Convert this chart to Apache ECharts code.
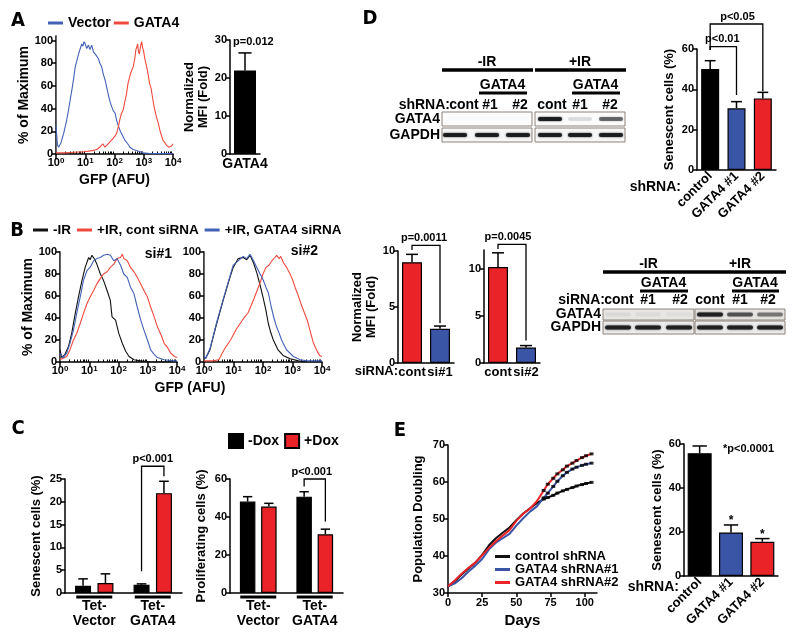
<!DOCTYPE html>
<html><head><meta charset="utf-8">
<script src="https://cdn.jsdelivr.net/npm/echarts@6/dist/echarts.min.js"></script>
<style>html,body{margin:0;padding:0;background:#fff}#c{width:800px;height:643px}</style>
</head><body><div id="c"></div>
<script>
// ---------------- DATA ----------------
// Panel A: flow histograms (x = log10 GFP, y = % of maximum)
const aVector = [[0,25],[0.05,8],[0.09,6],[0.17,10],[0.26,18],[0.35,28],[0.43,39],[0.5,50],[0.54,56],[0.6,66],[0.66,77],[0.72,83],[0.77,88],[0.83,93],[0.88,97],[0.92,95],[0.96,99],[1.0,97],[1.05,93],[1.11,96],[1.16,92],[1.22,96],[1.28,90],[1.34,91],[1.4,86],[1.45,84],[1.5,80],[1.56,77],[1.62,70],[1.68,65],[1.74,58],[1.79,52],[1.85,46],[1.9,42],[1.96,38],[2.02,36],[2.08,29],[2.13,25],[2.2,20],[2.24,18],[2.3,15],[2.36,12],[2.45,9],[2.53,6],[2.64,4],[2.75,3],[2.87,2],[2.98,1],[3.2,0.5],[3.5,0.3],[4,0.3]];
const aGata4 = [[0,1],[0.3,1],[0.6,1.5],[0.94,2],[1.1,2.5],[1.25,3],[1.39,4],[1.45,5],[1.5,6],[1.6,9],[1.67,6],[1.75,8],[1.85,11],[1.96,14],[2.02,16],[2.07,18],[2.13,24],[2.18,30],[2.24,36],[2.3,39],[2.36,47],[2.41,53],[2.46,62],[2.5,66],[2.55,71],[2.6,72],[2.64,77],[2.7,85],[2.73,92],[2.76,94],[2.79,97],[2.82,90],[2.85,88],[2.89,95],[2.93,99],[2.96,94],[3.0,90],[3.03,85],[3.07,80],[3.1,77],[3.15,70],[3.2,62],[3.25,58],[3.3,50],[3.35,42],[3.43,33],[3.5,27],[3.55,21],[3.62,15],[3.66,12],[3.72,10],[3.77,8],[3.85,6],[3.9,6],[3.95,7],[4.0,9]];
const aMfiCats = ['GATA4'];
const aMfi = [22];
const aMfiErr = [26.6];

// Panel B: histograms si#1 and si#2
const b1NoIR = [[0,11],[0.06,4],[0.17,7],[0.29,14],[0.4,26],[0.52,44],[0.63,59],[0.75,74],[0.86,86],[0.98,95],[1.03,93],[1.09,97],[1.13,98],[1.17,94],[1.26,89],[1.38,80],[1.49,74],[1.61,65],[1.72,56],[1.78,41],[1.9,38],[2.01,26],[2.13,17],[2.24,10],[2.36,5],[2.53,2],[2.76,1],[3.1,0],[4,0]];
const b1Gata4si = [[0,8],[0.11,4],[0.23,8],[0.34,17],[0.46,29],[0.57,44],[0.69,59],[0.8,74],[0.92,83],[1.03,86],[1.15,92],[1.26,94],[1.38,95],[1.49,97],[1.61,98],[1.72,97],[1.84,92],[1.95,94],[2.07,88],[2.18,80],[2.3,77],[2.41,68],[2.53,62],[2.64,50],[2.76,38],[2.87,29],[2.99,20],[3.1,11],[3.22,7],[3.33,4],[3.56,2],[3.9,1],[4,1]];
const b1Cont = [[0,2],[0.23,5],[0.34,11],[0.46,20],[0.57,26],[0.69,35],[0.8,44],[0.92,53],[1.03,59],[1.15,65],[1.26,71],[1.38,76],[1.49,80],[1.61,82],[1.72,86],[1.84,89],[1.95,94],[2.07,95],[2.13,98],[2.18,94],[2.3,92],[2.41,86],[2.53,82],[2.64,77],[2.76,71],[2.87,65],[2.99,59],[3.1,50],[3.22,41],[3.33,32],[3.45,25],[3.56,17],[3.68,13],[3.79,8],[3.91,5],[4,4]];
const b2NoIR = [[0,5],[0.05,3],[0.2,11],[0.43,35],[0.65,56],[0.88,77],[0.99,86],[1.16,94],[1.33,95],[1.45,93],[1.56,97],[1.68,90],[1.79,81],[1.9,70],[2.0,59],[2.1,47],[2.18,35],[2.26,27],[2.35,20],[2.51,11],[2.68,6],[2.92,3],[3.2,1],[3.5,0],[4,0]];
const b2Gata4si = [[0,6],[0.05,3],[0.2,12],[0.43,36],[0.65,57],[0.88,78],[0.99,88],[1.16,92],[1.33,96],[1.45,94],[1.56,98],[1.68,92],[1.79,86],[1.9,80],[2.0,75],[2.1,68],[2.18,63],[2.28,50],[2.37,40],[2.46,32],[2.55,26],[2.63,20],[2.8,11],[3.03,5],[3.26,2],[3.5,1],[4,1]];
const b2Cont = [[0,1],[0.3,1],[0.5,2],[0.7,12],[0.9,20],[1.1,30],[1.3,38],[1.5,45],[1.7,58],[1.9,72],[2.0,80],[2.1,86],[2.2,88],[2.3,92],[2.4,95],[2.46,97],[2.55,94],[2.6,96],[2.7,90],[2.8,86],[2.9,81],[3.0,75],[3.1,67],[3.2,60],[3.3,52],[3.4,45],[3.5,38],[3.6,28],[3.7,18],[3.78,13],[3.85,9],[3.92,6],[4.0,5]];
const b1Cats = ['cont','si#1'];
const b1Mfi = [9.0, 3.05];
const b1Err = [9.7, 3.3];
const b2Cats = ['cont','si#2'];
const b2Mfi = [10.2, 1.65];
const b2Err = [11.7, 1.85];

// Panel C
const cCats = ['Tet-\nVector','Tet-\nGATA4'];
const cSenNoDox = [1.6, 1.8];
const cSenNoDoxErr = [3.1, 2.0];
const cSenDox = [2.2, 21.9];
const cSenDoxErr = [4.2, 24.5];
const cProNoDox = [48.1, 50.7];
const cProNoDoxErr = [50.7, 53.3];
const cProDox = [45.5, 30.9];
const cProDoxErr = [47.2, 33.6];

// Panel D
const dCats = ['control','GATA4 #1','GATA4 #2'];
const dSen = [50.1, 30.6, 35.5];
const dSenErr = [54.2, 33.9, 38.5];
const dLaneLabels = ['cont','#1','#2','cont','#1','#2'];
const dGata4Band = [0, 0, 0, 0.92, 0.12, 0.55];
const dGapdhBand = [0.92, 0.92, 0.92, 0.92, 0.92, 0.92];
const bLaneLabels = ['cont','#1','#2','cont','#1','#2'];
const bGata4Band = [0.06, 0.05, 0.04, 0.9, 0.6, 0.45];
const bGapdhBand = [0.9, 0.9, 0.9, 0.9, 0.9, 0.9];

// Panel E
const eDays = [0,5,10,15,20,25,30,35,40,45,50,55,60,65,70,73,77,80,84,87,91,94,98,101,105];
const eCtrl = [31.8,33.2,35,36.6,38.2,40.3,42.9,44.8,46.3,47.7,49.7,51.5,52.9,54.3,55.4,55.8,56.4,57,57.6,58,58.5,58.9,59.3,59.6,59.9];
const eSh1  = [31.8,32.6,34,35.8,37.4,39.2,41.8,43.6,44.8,46,48.2,50.2,52,53.4,55.7,57,58.8,60.2,61.7,62.6,63.5,64,64.5,64.8,65.1];
const eSh2  = [31.8,33.4,35.2,36.8,38.2,40.2,42.2,44,45.5,47,49.5,51.4,52.8,54.8,57.7,59.4,61,62.2,63.3,64.3,65.1,65.8,66.6,67.1,67.6];
const eSenCats = ['control','GATA4 #1','GATA4 #2'];
const eSen = [55.8, 19.8, 15.6];
const eSenErr = [59.1, 23.2, 17.0];

// ---------------- STYLE / BUILD ----------------
const F = '"Liberation Sans", Arial, Helvetica, sans-serif';
const FN = '"Liberation Sans Narrow", "DejaVu Sans Condensed", "Liberation Sans", sans-serif';
const RED = '#ea2328', BLUE = '#3a55a5', BLACK = '#000';
const HRED = '#ef4a3e', HBLUE = '#4361b6';
const font = (sz, fam) => 'bold ' + sz + 'px ' + (fam || F);

const grids = [], xAxes = [], yAxes = [], series = [], graphics = [];
const addGrid = g => { grids.push(Object.assign({containLabel:false, outerBoundsMode:'none'}, g)); return grids.length - 1; };
const addX = a => { xAxes.push(a); return xAxes.length - 1; };
const addY = a => { yAxes.push(a); return yAxes.length - 1; };

const axLine = {show:true, lineStyle:{color:'#000', width:1.5}};
const axTick = {show:true, inside:false, length:4, lineStyle:{color:'#000', width:1.5}};
const tickLbl = {color:'#000', fontSize:11, fontWeight:'bold', fontFamily:F, margin:3};
const valAxis = extra => Object.assign({type:'value', axisLine:axLine, axisTick:axTick, axisLabel:tickLbl, splitLine:{show:false}}, extra);
const catLbl = {color:'#000', fontSize:14, fontWeight:'bold', fontFamily:F, margin:3, interval:0};
const catAxis = extra => Object.assign({type:'category', axisLine:axLine, axisTick:{show:false}, axisLabel:catLbl, splitLine:{show:false}}, extra);
const yName = (name, gap, size) => ({name, nameLocation:'middle', nameGap:gap, nameTextStyle:{color:'#000', fontSize:size || 13, fontWeight:'bold', fontFamily:F, lineHeight:14}});

const MINOR = [];
for (let n = 0; n < 4; n++) for (let k = 2; k <= 9; k++) MINOR.push(n + Math.log10(k));

function histPanel(grid, curves, opts) {
  const g = addGrid(grid);
  const xi = addX(valAxis(Object.assign({gridIndex:g, min:0, max:4, interval:1,
    axisTick:Object.assign({}, axTick, {length:5}),
    axisLabel:Object.assign({}, tickLbl, {formatter: v => '{b|10}{s|' + v + '}',
      rich:{b:{fontSize:11, fontWeight:'bold', color:'#000', fontFamily:F}, s:{fontSize:8, fontWeight:'bold', color:'#000', fontFamily:F, verticalAlign:'top', lineHeight:8}}})
  }, opts.xName || {})));
  addX({type:'value', gridIndex:g, min:0, max:4, axisLine:{show:false}, axisLabel:{show:false}, splitLine:{show:false},
    axisTick:{show:true, length:2.5, customValues:MINOR, lineStyle:{color:'#000', width:1}}});
  const yt = [0,20,40,60,80,100];
  const yi = addY(valAxis(Object.assign({gridIndex:g, min:0, max:opts.ymax,
    axisLabel:Object.assign({}, tickLbl, {customValues:yt}),
    axisTick:Object.assign({}, axTick, {customValues:yt})}, opts.yName || {})));
  addY({type:'value', gridIndex:g, position:'right', min:0, max:opts.ymax,
    axisLine:{show:true, lineStyle:{color:'#666', width:1}}, axisTick:{show:false}, axisLabel:{show:false}, splitLine:{show:false}});
  curves.forEach(c => series.push({type:'line', name:c.name, xAxisIndex:xi, yAxisIndex:yi, data:c.data,
    symbol:'none', showSymbol:false, lineStyle:{width:1.1, color:c.color}, itemStyle:{color:c.color}, silent:true, z:2}));
}

function errSeries(xi, yi, vals, errs, off, capW) {
  return {type:'custom', xAxisIndex:xi, yAxisIndex:yi, silent:true, clip:false, z:4,
    data: vals.map((v, i) => [i, v, errs[i]]),
    renderItem(p, api) {
      const p0 = api.coord([api.value(0), api.value(1)]);
      const p1 = api.coord([api.value(0), api.value(2)]);
      const x = p0[0] + off;
      return {type:'group', children:[
        {type:'line', shape:{x1:x, y1:p0[1], x2:x, y2:p1[1]}, style:{stroke:'#000', lineWidth:1.5}},
        {type:'line', shape:{x1:x - capW / 2, y1:p1[1], x2:x + capW / 2, y2:p1[1]}, style:{stroke:'#000', lineWidth:1.5}}
      ]};
    }};
}

function bracket(xi, yi, spec, offA, offB, label, dx) {
  return {type:'custom', xAxisIndex:xi, yAxisIndex:yi, silent:true, clip:false, z:5, data:[spec],
    renderItem(p, api) {
      const t = api.coord([api.value(0), api.value(2)]);
      const tb = api.coord([api.value(1), api.value(2)]);
      const ea = api.coord([api.value(0), api.value(3)]);
      const eb = api.coord([api.value(1), api.value(4)]);
      const xa = t[0] + offA, xb = tb[0] + offB, yt = t[1];
      return {type:'group', children:[
        {type:'polyline', shape:{points:[[xa, ea[1]], [xa, yt], [xb, yt], [xb, eb[1]]]}, style:{stroke:'#000', lineWidth:1.3, fill:null}},
        {type:'text', x:(xa + xb) / 2 + (dx || 0), y:yt - 2, style:{text:label, font:font(11), fill:'#000', textAlign:'center', textVerticalAlign:'bottom'}}
      ]};
    }};
}

function barPanel(grid, cats, groups, o) {
  const g = addGrid(grid);
  const xi = addX(catAxis(Object.assign({gridIndex:g, data:cats}, o.x || {})));
  const yi = addY(valAxis(Object.assign({gridIndex:g, min:0, max:o.max, interval:o.interval}, o.y || {})));
  const n = groups.length, w = o.barWidth, gap = w * (o.gapPct || 0) / 100;
  const offs = groups.map((gr, j) => (j - (n - 1) / 2) * (w + gap));
  groups.forEach((gr, j) => {
    series.push({type:'bar', name:gr.name, xAxisIndex:xi, yAxisIndex:yi, barWidth:w, barGap:(o.gapPct || 0) + '%',
      data: gr.vals.map((v, i) => ({value:v, itemStyle:{color: gr.colors ? gr.colors[i] : gr.color}})),
      itemStyle:{color:gr.color || BLACK, borderColor:'#000', borderWidth:1.2}, silent:true, z:3});
    series.push(errSeries(xi, yi, gr.vals, gr.errs, offs[j], w * 0.6));
  });
  return {xi, yi, offs};
}

// ---- Panel A ----
histPanel({left:56, top:36, width:117, height:118},
  [{name:'Vector', data:aVector, color:HBLUE}, {name:'GATA4', data:aGata4, color:HRED}],
  {ymax:104, yName:yName('% of Maximum', 23, 14),
   xName:{name:'GFP (AFU)', nameLocation:'middle', nameGap:19, nameTextStyle:{color:'#000', fontSize:14, fontWeight:'bold', fontFamily:F}}});
barPanel({left:230, top:40, width:30, height:114}, aMfiCats,
  [{name:'A MFI', vals:aMfi, errs:aMfiErr, color:BLACK}],
  {max:30, interval:10, barWidth:22, y:yName('Normalized\nMFI (Fold)', 17, 13)});

// ---- Panel D bar ----
const pD = barPanel({left:697, top:49, width:79, height:121}, dCats,
  [{name:'D sen', vals:dSen, errs:dSenErr, colors:[BLACK, BLUE, RED]}],
  {max:60, interval:20, barWidth:18, y:yName('Senescent cells (%)', 21, 13),
   x:{axisLabel:Object.assign({}, catLbl, {rotate:45, fontSize:13, margin:4})}});
series.push(bracket(pD.xi, pD.yi, [0, 1, 61.2, 59.5, 37.2], 0, 0, 'p<0.01', -1));
series.push(bracket(pD.xi, pD.yi, [0, 2, 72.4, 59.5, 39.0], 0, 0, 'p<0.05', 1));

// ---- Panel B ----
histPanel({left:60, top:252, width:117, height:110},
  [{name:'-IR', data:b1NoIR, color:'#111'}, {name:'+IR, cont siRNA', data:b1Cont, color:HRED}, {name:'+IR, GATA4 siRNA', data:b1Gata4si, color:HBLUE}],
  {ymax:100, yName:yName('% of Maximum', 20, 14)});
histPanel({left:204, top:252, width:118, height:110},
  [{name:'-IR', data:b2NoIR, color:'#111'}, {name:'+IR, cont siRNA', data:b2Cont, color:HRED}, {name:'+IR, GATA4 siRNA', data:b2Gata4si, color:HBLUE}],
  {ymax:100});
const bCatLbl = Object.assign({}, catLbl, {fontSize:13});
const pB1 = barPanel({left:398, top:251, width:56, height:112}, b1Cats,
  [{name:'B1', vals:b1Mfi, errs:b1Err, colors:[RED, BLUE]}],
  {max:10, interval:5, barWidth:20, y:yName('Normalized\nMFI (Fold)', 16, 13), x:{axisLabel:bCatLbl}});
series.push(bracket(pB1.xi, pB1.yi, [0, 1, 10.5, 10.1, 3.55], 0, 0, 'p=0.0011', -2));
const pB2 = barPanel({left:484, top:250, width:56, height:113}, b2Cats,
  [{name:'B2', vals:b2Mfi, errs:b2Err, colors:[RED, BLUE]}],
  {max:12, interval:5, barWidth:20, x:{axisLabel:bCatLbl},
   y:{axisLabel:Object.assign({}, tickLbl, {customValues:[0,5,10]}), axisTick:Object.assign({}, axTick, {customValues:[0,5,10]})}});
series.push(bracket(pB2.xi, pB2.yi, [0, 1, 12.6, 12.1, 2.4], 0, 0, 'p=0.0045', -4));

// ---- Panel C ----
const pC1 = barPanel({left:65, top:479, width:117, height:114}, cCats,
  [{name:'-Dox', vals:cSenNoDox, errs:cSenNoDoxErr, color:BLACK}, {name:'+Dox', vals:cSenDox, errs:cSenDoxErr, color:RED}],
  {max:25, interval:5, barWidth:16, gapPct:40, y:yName('Senescent cells (%)', 22, 13),
   x:{axisLabel:Object.assign({}, catLbl, {margin:6, lineHeight:15})}});
series.push(bracket(pC1.xi, pC1.yi, [1, 1, 27.8, 4.75, 25.6], pC1.offs[0], pC1.offs[1], 'p<0.001', 0));
const pC2 = barPanel({left:230, top:479, width:113, height:114}, cCats,
  [{name:'-Dox', vals:cProNoDox, errs:cProNoDoxErr, color:BLACK}, {name:'+Dox', vals:cProDox, errs:cProDoxErr, color:RED}],
  {max:60, interval:20, barWidth:15.5, gapPct:37, y:yName('Proliferating cells (%)', 22, 13),
   x:{axisLabel:Object.assign({}, catLbl, {margin:6, lineHeight:15})}});
series.push(bracket(pC2.xi, pC2.yi, [1, 1, 60, 56, 37.6], pC2.offs[0], pC2.offs[1], 'p<0.001', -3));
// group underlines below C category labels
[pC1, pC2].forEach(pc => series.push({type:'custom', xAxisIndex:pc.xi, yAxisIndex:pc.yi, silent:true, clip:false, z:5,
  data: cCats.map((c, i) => [i, 0]),
  renderItem(p, api) {
    const c = api.coord([api.value(0), 0]);
    return {type:'line', shape:{x1:c[0] - 18, y1:c[1] + 4, x2:c[0] + 18, y2:c[1] + 4}, style:{stroke:'#000', lineWidth:3}};
  }}));

// ---- Panel E line ----
const gE = addGrid({left:448, top:445, width:149, height:148});
const xE = addX(valAxis({gridIndex:gE, min:0, max:109,
  axisLabel:Object.assign({}, tickLbl, {customValues:[0,25,50,75,100], margin:4}),
  axisTick:Object.assign({}, axTick, {customValues:[0,25,50,75,100]}),
  name:'Days', nameLocation:'middle', nameGap:20, nameTextStyle:{color:'#000', fontSize:15, fontWeight:'bold', fontFamily:F}}));
const yE = addY(valAxis(Object.assign({gridIndex:gE, min:30, max:70, interval:10}, yName('Population Doubling', 23, 13))));
[['control shRNA', eCtrl, '#111'], ['GATA4 shRNA#1', eSh1, BLUE], ['GATA4 shRNA#2', eSh2, RED]].forEach(([nm, arr, col]) => {
  series.push({type:'line', name:nm, xAxisIndex:xE, yAxisIndex:yE, data:eDays.map((d, i) => [d, arr[i]]),
    symbol:'none', showSymbol:false, lineStyle:{width:2, color:col}, itemStyle:{color:col}, silent:true, z:2});
  series.push({type:'scatter', name:nm + ' pts', xAxisIndex:xE, yAxisIndex:yE,
    data:eDays.map((d, i) => [d, arr[i]]).filter(pt => pt[0] >= 70),
    symbol:'rect', symbolSize:[4, 3], itemStyle:{color:'#000'}, silent:true, z:3});
});

// ---- Panel E bar ----
const pE = barPanel({left:684, top:444, width:94, height:132}, eSenCats,
  [{name:'E sen', vals:eSen, errs:eSenErr, colors:[BLACK, BLUE, RED]}],
  {max:60, interval:20, barWidth:24, y:yName('Senescent cells (%)', 20, 13),
   x:{axisLabel:Object.assign({}, catLbl, {rotate:45, fontSize:13, margin:4})}});
series.push({type:'custom', xAxisIndex:pE.xi, yAxisIndex:pE.yi, silent:true, clip:false, z:5,
  data: eSenErr.map((e, i) => [i, e]).filter(d => d[0] > 0),
  renderItem(p, api) {
    const c = api.coord([api.value(0), api.value(1)]);
    return {type:'text', x:c[0], y:c[1] + 2, style:{text:'*', font:font(12), fill:'#000', textAlign:'center', textVerticalAlign:'bottom'}};
  }});

// ---------------- GRAPHICS (labels, blots) ----------------
const T = (text, x, y, align, sz, fam) => graphics.push({type:'text', x, y, silent:true,
  style:{text, font:font(sz || 14, fam), fill:'#000', textAlign:align || 'center', textVerticalAlign:'middle'}});
const Ln = (x1, y1, x2, y2, w) => graphics.push({type:'line', silent:true, shape:{x1, y1, x2, y2}, style:{stroke:'#000', lineWidth:w}});

T('A', 18, 21, 'center', 20, FN); T('B', 17, 231, 'center', 20, FN); T('C', 18, 429, 'center', 20, FN);
T('D', 370, 19, 'center', 20, FN); T('E', 400, 431, 'center', 20, FN);
T('p=0.012', 233, 42, 'left', 11);
T('si#1', 172, 254, 'right', 14); T('si#2', 318, 251, 'right', 14);
T('GFP (AFU)', 190, 388, 'center', 14);
T('siRNA:', 398, 371, 'right', 13);
T('shRNA:', 681, 187, 'right', 14);
T('shRNA:', 679, 587, 'right', 14);
T('*p<0.0001', 723, 449, 'left', 11);

function blot(L) {
  L.boxes.forEach((bx, k) => {
    T(L.heads[k], (bx[0] + bx[1]) / 2, L.headY);
    Ln(bx[0], L.headLineY, bx[1] + 1, L.headLineY, 3.5);
    const l1 = L.laneX[k * 3 + 1], l2 = L.laneX[k * 3 + 2];
    T('GATA4', (l1 + l2) / 2, L.subY);
    Ln(l1 - 8, L.subLineY, l2 + 9, L.subLineY, 3);
    L.rows.forEach((r, ri) => graphics.push({type:'rect', silent:true,
      shape:{x:bx[0], y:r[0], width:bx[1] - bx[0], height:r[1] - r[0]}, style:{fill:L.fills[ri], stroke:'#8d837b', lineWidth:1}}));
  });
  T(L.prefix, L.prefixX, L.laneY, 'right');
  L.laneText.forEach((t, i) => T(t, L.laneTextX[i], L.laneY));
  L.rowLabels.forEach((t, ri) => T(t, L.rowLabelX, (L.rows[ri][0] + L.rows[ri][1]) / 2, 'right'));
  L.bands.forEach((arr, ri) => arr.forEach((v, i) => {
    if (v <= 0) return;
    const cy = (L.rows[ri][0] + L.rows[ri][1]) / 2;
    const col = 'rgba(25,25,25,' + v + ')';
    graphics.push({type:'rect', silent:true, shape:{x:L.laneX[i] - L.bandW / 2, y:cy - 2, width:L.bandW, height:4, r:2},
      style:{fill:col, shadowBlur:2, shadowColor:col}});
  }));
}
blot({boxes:[[442,532],[535,625]], rows:[[112,126],[128,142]], fills:['#fbfbfb','#f6f6f6'], heads:['-IR','+IR'],
  headY:62, headLineY:70, subY:85, subLineY:93, laneY:105, prefix:'shRNA:', prefixX:450,
  laneText:dLaneLabels, laneTextX:[464,490,520,552,580,610], rowLabels:['GATA4','GAPDH'], rowLabelX:440,
  laneX:[455,487,518,550,580,611], bandW:24, bands:[dGata4Band, dGapdhBand]});
blot({boxes:[[603,694],[695,785]], rows:[[309,320],[321,334]], fills:['#e8e6e4','#ececec'], heads:['-IR','+IR'],
  headY:264, headLineY:272, subY:283, subLineY:291, laneY:300, prefix:'siRNA:', prefixX:605,
  laneText:bLaneLabels, laneTextX:[619,648,680,710,740,768], rowLabels:['GATA4','GAPDH'], rowLabelX:601,
  laneX:[618,648,679,710,740,770], bandW:26, bands:[bGata4Band, bGapdhBand]});

// ---------------- LEGENDS ----------------
const legText = sz => ({color:'#000', fontSize:sz, fontWeight:'bold', fontFamily:F});
const legends = [
  {left:48, top:16, padding:0, icon:'rect', itemWidth:15, itemHeight:3, itemGap:3, selectedMode:false, textStyle:legText(14), data:['Vector','GATA4']},
  {left:33, top:223, padding:0, icon:'rect', itemWidth:15, itemHeight:3, itemGap:6, selectedMode:false, textStyle:legText(13.5), data:['-IR','+IR, cont siRNA','+IR, GATA4 siRNA']},
  {left:228, top:433, padding:0, icon:'rect', itemWidth:14, itemHeight:14, itemGap:5, selectedMode:false, textStyle:legText(14), data:['-Dox','+Dox']},
  {left:495, top:550, padding:0, orient:'vertical', icon:'rect', itemWidth:15, itemHeight:3, itemGap:0, selectedMode:false,
   textStyle:Object.assign(legText(13), {lineHeight:13}), data:['control shRNA','GATA4 shRNA#1','GATA4 shRNA#2']}
];

const chart = echarts.init(document.getElementById('c'), null, {renderer:'canvas'});
chart.setOption({
  animation:false, backgroundColor:'#fff',
  textStyle:{fontFamily:F, color:'#000'},
  grid:grids, xAxis:xAxes, yAxis:yAxes, series, legend:legends,
  graphic:{elements:graphics}, tooltip:{show:false}
});
</script></body></html>
